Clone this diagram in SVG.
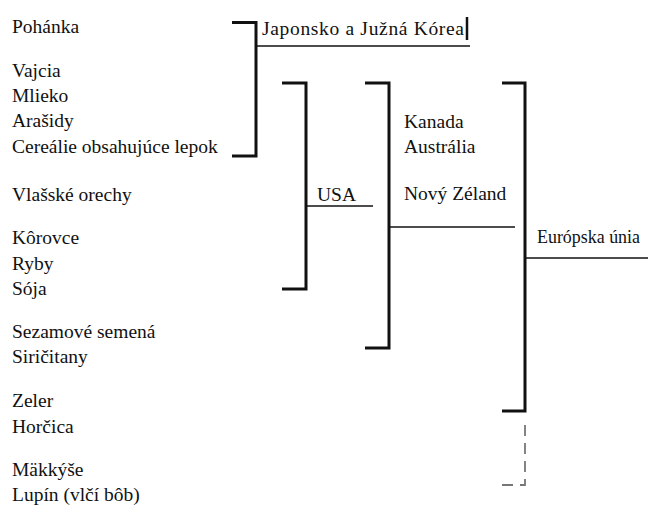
<svg xmlns="http://www.w3.org/2000/svg" width="648" height="506" viewBox="0 0 648 506">
<style>
.br{fill:none;stroke:#111;stroke-width:3}
.ln{fill:none;stroke:#111;stroke-width:1.5}
.ds{fill:none;stroke:#777;stroke-width:1.8;stroke-dasharray:11 7}
</style>
<rect width="648" height="506" fill="#fff"/>
<g font-family="'Liberation Serif', 'Times New Roman', serif" font-size="19.5" fill="#111">
<g id="allergens">
<text x="12" y="33">Pohánka</text>
<text x="12" y="77">Vajcia</text>
<text x="12" y="102">Mlieko</text>
<text x="12" y="127">Arašidy</text>
<text x="12" y="153">Cereálie obsahujúce lepok</text>
<text x="12" y="201">Vlašské orechy</text>
<text x="12" y="244">Kôrovce</text>
<text x="12" y="270">Ryby</text>
<text x="12" y="295">Sója</text>
<text x="12" y="338">Sezamové semená</text>
<text x="12" y="363">Siričitany</text>
<text x="12" y="407">Zeler</text>
<text x="12" y="433">Horčica</text>
<text x="12" y="476">Mäkkýše</text>
<text x="12" y="501">Lupín (vlčí bôb)</text>
</g>
<g id="japan">
<text x="262" y="35" textLength="202" lengthAdjust="spacing">Japonsko a Južná Kórea</text>
<line x1="467" y1="17" x2="467" y2="40" stroke="#111" stroke-width="2.5"/>
</g>
<g id="usa">
<text x="317" y="201">USA</text>
</g>
<g id="canada">
<text x="404" y="128">Kanada</text>
<text x="404" y="153">Austrália</text>
<text x="404" y="200">Nový Zéland</text>
</g>
<g id="eu">
<text x="537" y="243" font-size="19" textLength="103" lengthAdjust="spacingAndGlyphs">Európska únia</text>
</g>
</g>
<g id="connectors">
<polyline class="br" points="232,22.5 256,22.5 256,156 232,156"/>
<line class="ln" x1="256" y1="46" x2="470" y2="46"/>
<polyline class="br" points="282,83 306,83 306,289 282,289"/>
<line class="ln" x1="306" y1="206" x2="373" y2="206"/>
<polyline class="br" points="365,83 389,83 389,348 365,348"/>
<line class="ln" x1="389" y1="227" x2="515" y2="227"/>
<polyline class="br" points="502,83 525,83 525,411 502,411"/>
<line class="ln" x1="525" y1="258" x2="648" y2="258"/>
<polyline class="ds" points="525,425 525,485 500,485"/>
</g>
</svg>
